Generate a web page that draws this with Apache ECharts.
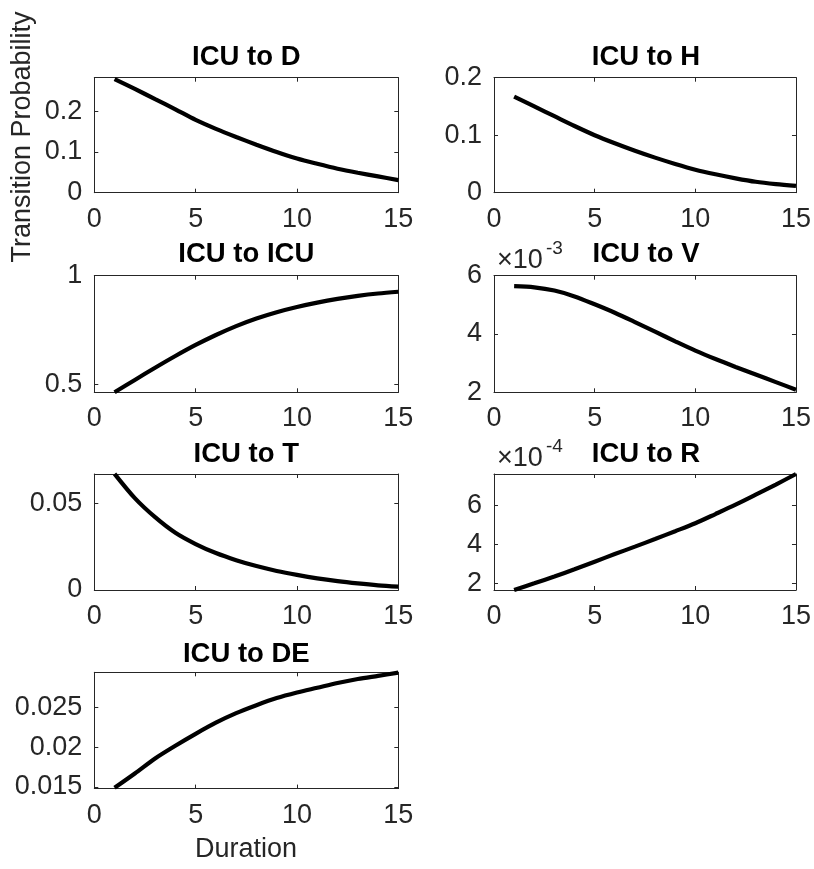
<!DOCTYPE html>
<html>
<head>
<meta charset="utf-8">
<script src="https://cdn.jsdelivr.net/npm/echarts@6/dist/echarts.min.js"></script>
<style>
html,body{margin:0;padding:0;background:#fff;}
#chart{width:814px;height:869px;}
</style>
</head>
<body>
<div id="chart"></div>
<script>
// ---------- data ----------
const durations = [1,2,3,4,5,6,7,8,9,10,11,12,13,14,15];
const xTicks = [0,5,10,15];

const titles = ['ICU to D','ICU to H','ICU to ICU','ICU to V','ICU to T','ICU to R','ICU to DE'];

const icuToD   = [0.279,0.255,0.230,0.205,0.179,0.157,0.137,0.118,0.100,0.084,0.071,0.059,0.049,0.040,0.031];
const icuToH   = [0.167,0.150,0.133,0.116,0.100,0.086,0.073,0.061,0.050,0.040,0.032,0.025,0.019,0.015,0.012];
const icuToICU = [0.463,0.520,0.576,0.630,0.681,0.727,0.768,0.803,0.832,0.856,0.876,0.893,0.907,0.918,0.926];
const icuToV   = [0.00564,0.00560,0.00549,0.00529,0.00502,0.00473,0.00441,0.00408,0.00375,0.00343,0.00314,0.00287,0.00261,0.00235,0.00209];
const icuToT   = [0.0670,0.0530,0.0420,0.0330,0.0265,0.0213,0.0172,0.0138,0.0110,0.0087,0.0067,0.0051,0.0038,0.0027,0.0019];
const icuToR   = [0.000166,0.000200,0.000235,0.000272,0.000311,0.000350,0.000388,0.000427,0.000467,0.000508,0.000555,0.000603,0.000654,0.000706,0.000760];
const icuToDE  = [0.0149,0.0167,0.0186,0.0202,0.0217,0.0231,0.0243,0.0253,0.0262,0.0269,0.0275,0.0281,0.0286,0.0290,0.0294];

const seriesData = [icuToD, icuToH, icuToICU, icuToV, icuToT, icuToR, icuToDE];

const yMins = [0, 0, 0.463, 0.002, 0, 0.000166, 0.0148];
const yMaxs = [0.2826, 0.2, 1, 0.006, 0.0669, 0.00076, 0.02945];
const yTicks = [
  [0, 0.1, 0.2],
  [0, 0.1, 0.2],
  [0.5, 1],
  [0.002, 0.004, 0.006],
  [0, 0.05],
  [0.0002, 0.0004, 0.0006],
  [0.015, 0.02, 0.025]
];
const yExponents = [0, 0, 0, -3, 0, -4, 0];

// ---------- layout ----------
const colLeft = [94.3, 494];
const colWidth = 304;
const rowTop = [77.7, 275.7, 474, 672.3];
const rowHeight = [115, 116.6, 116, 116.3];
const titleY = [57.5, 254.5, 454, 654];

const FONT = '"Liberation Sans", Arial, Helvetica, sans-serif';
const AX = '#262626';
const FS = 27;
const TFS = 27.5;

const grids = [], xAxes = [], yAxes = [], series = [], graphics = [];

function fmt(v, exp) {
  const s = exp ? v / Math.pow(10, exp) : v;
  return String(parseFloat(s.toPrecision(6)));
}

seriesData.forEach((vals, i) => {
  const r = Math.floor(i / 2), c = i % 2;
  const left = colLeft[c], top = rowTop[r], w = colWidth, h = rowHeight[r];
  grids.push({left: left, top: top, width: w, height: h, show: false, containLabel: false});
  const xBase = {
    type: 'value', gridIndex: i, min: 0, max: 15,
    splitLine: {show: false},
    axisLine: {show: true, onZero: false, lineStyle: {color: AX, width: 1}},
    axisTick: {show: true, inside: true, length: 4, customValues: xTicks, lineStyle: {color: AX}},
  };
  xAxes.push(Object.assign({}, xBase, {
    position: 'bottom',
    axisLabel: {show: true, customValues: xTicks, margin: 13, color: AX, fontSize: FS, fontFamily: FONT,
      formatter: v => String(v)}
  }));
  xAxes.push(Object.assign({}, xBase, {position: 'top', axisLabel: {show: false}}));
  const yBase = {
    type: 'value', gridIndex: i, min: yMins[i], max: yMaxs[i], scale: true,
    splitLine: {show: false},
    axisLine: {show: true, onZero: false, lineStyle: {color: AX, width: 1}},
    axisTick: {show: true, inside: true, length: 4, customValues: yTicks[i], lineStyle: {color: AX}},
  };
  yAxes.push(Object.assign({}, yBase, {
    position: 'left',
    axisLabel: {show: true, customValues: yTicks[i], margin: 12, color: AX, fontSize: FS, fontFamily: FONT,
      formatter: (e => v => fmt(v, e))(yExponents[i])}
  }));
  yAxes.push(Object.assign({}, yBase, {position: 'right', axisLabel: {show: false}}));

  series.push({
    type: 'line', xAxisIndex: 2 * i, yAxisIndex: 2 * i,
    data: durations.map((d, k) => [d, vals[k]]),
    smooth: 0.3, showSymbol: false, symbol: 'none', clip: false,
    lineStyle: {color: '#000', width: 4.2}, silent: true
  });

  graphics.push({
    type: 'text', silent: true,
    style: {text: titles[i], x: left + w / 2, y: titleY[r], textAlign: 'center', textVerticalAlign: 'middle',
      font: 'bold ' + TFS + 'px ' + FONT, fill: '#000'}
  });
  if (yExponents[i]) {
    graphics.push({
      type: 'text', silent: true,
      style: {text: '×10', x: left + 3, y: top - 15, textAlign: 'left', textVerticalAlign: 'middle',
        font: FS + 'px ' + FONT, fill: AX}
    });
    graphics.push({
      type: 'text', silent: true,
      style: {text: String(yExponents[i]), x: left + 52, y: top - 27, textAlign: 'left', textVerticalAlign: 'middle',
        font: '19px ' + FONT, fill: AX}
    });
  }
});

graphics.push({
  type: 'text', silent: true, rotation: Math.PI / 2, x: 23, y: 137,
  style: {text: 'Transition Probability', x: 0, y: 0, textAlign: 'center', textVerticalAlign: 'middle',
    font: FS + 'px ' + FONT, fill: AX}
});
graphics.push({
  type: 'text', silent: true,
  style: {text: 'Duration', x: 246, y: 850, textAlign: 'center', textVerticalAlign: 'middle',
    font: FS + 'px ' + FONT, fill: AX}
});

const chart = echarts.init(document.getElementById('chart'), null, {renderer: 'canvas'});
chart.setOption({
  animation: false,
  backgroundColor: '#fff',
  grid: grids,
  xAxis: xAxes,
  yAxis: yAxes,
  series: series,
  graphic: graphics
});
</script>
</body>
</html>
